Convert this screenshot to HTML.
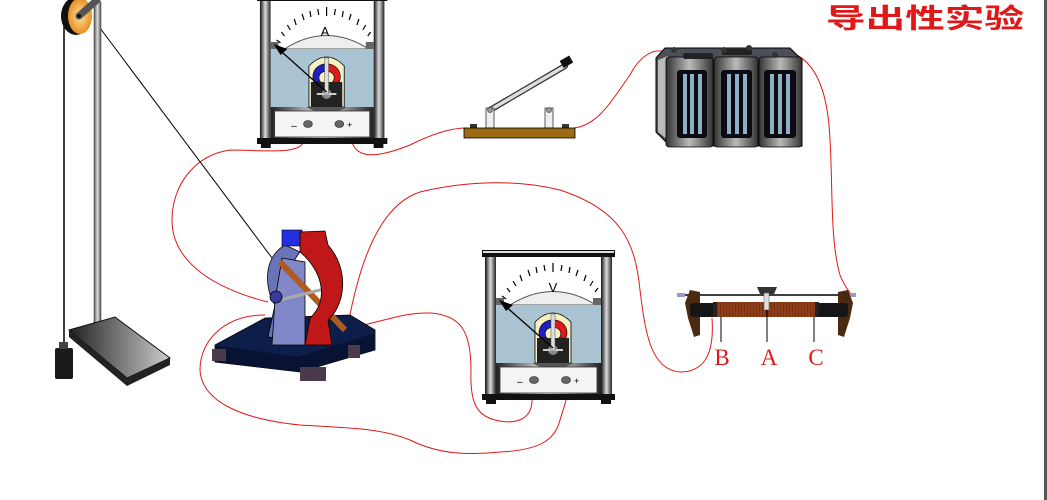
<!DOCTYPE html>
<html><head><meta charset="utf-8"><style>
html,body{margin:0;padding:0;background:#fff;}
svg{display:block;}
</style></head><body>
<svg width="1047" height="500" viewBox="0 0 1047 500" xmlns="http://www.w3.org/2000/svg">
<defs>
<linearGradient id="pil" x1="0" x2="1"><stop offset="0" stop-color="#111"/><stop offset="0.5" stop-color="#ddd"/><stop offset="1" stop-color="#222"/></linearGradient>
<linearGradient id="pan" x1="0" x2="1"><stop offset="0" stop-color="#222"/><stop offset="0.5" stop-color="#eee"/><stop offset="1" stop-color="#222"/></linearGradient>
<linearGradient id="rod" x1="0" x2="1"><stop offset="0" stop-color="#555"/><stop offset="0.5" stop-color="#ddd"/><stop offset="1" stop-color="#555"/></linearGradient>
<linearGradient id="bs" x1="0" x2="1"><stop offset="0" stop-color="#222"/><stop offset="1" stop-color="#ccc"/></linearGradient>
<radialGradient id="pul"><stop offset="0" stop-color="#ffe0a0"/><stop offset="1" stop-color="#e89020"/></radialGradient>
<linearGradient id="bat" x1="0" x2="1"><stop offset="0" stop-color="#333"/><stop offset="0.5" stop-color="#bbb"/><stop offset="1" stop-color="#333"/></linearGradient>
<g id="meter">
  <rect x="0" y="0" width="133" height="7" fill="#111"/>
  <rect x="1" y="1" width="131" height="2" fill="#ddd"/>
  <rect x="3" y="7" width="11" height="138" fill="url(#pil)"/>
  <rect x="119" y="7" width="11" height="138" fill="url(#pil)"/>
  <rect x="14" y="7" width="105" height="48" fill="#fff"/>
  <g stroke="#000" stroke-width="1.2">
    <line x1="20" y1="46" x2="24" y2="49"/><line x1="25" y1="38" x2="28" y2="42"/>
    <line x1="31" y1="31" x2="34" y2="36"/><line x1="38" y1="25" x2="40" y2="31"/>
    <line x1="46" y1="20" x2="48" y2="26"/><line x1="54" y1="17" x2="55" y2="23"/>
    <line x1="62" y1="15" x2="63" y2="21"/><line x1="71" y1="13" x2="71" y2="22"/>
    <line x1="80" y1="15" x2="79" y2="21"/><line x1="88" y1="17" x2="87" y2="23"/>
    <line x1="96" y1="20" x2="94" y2="26"/><line x1="104" y1="25" x2="102" y2="31"/>
    <line x1="111" y1="31" x2="108" y2="36"/><line x1="116" y1="38" x2="113" y2="42"/>
  </g>
  <path d="M28 55 Q71 28 114 55 Z" fill="#eee" stroke="#555" stroke-width="1"/>
  <rect x="14" y="48" width="8" height="7" fill="#666"/><rect x="111" y="48" width="8" height="7" fill="#666"/>
  <rect x="14" y="55" width="105" height="58" fill="#a9c3d3"/>
  <path d="M53 113 V72 Q71 54 89 72 V113 Z" fill="#f6efc0" stroke="#000" stroke-width="0.8"/>
  <path d="M58 88 A13 13 0 0 1 71 70 V78 A6 6 0 0 0 65 88 Z" fill="#2020c0" stroke="#000" stroke-width="0.6"/>
  <path d="M84 88 A13 13 0 0 0 71 70 V78 A6 6 0 0 1 77 88 Z" fill="#e01818" stroke="#000" stroke-width="0.6"/>
  <rect x="55" y="88" width="32" height="25" fill="#222"/>
  <circle cx="71" cy="100" r="5" fill="#888"/>
  <line x1="61" y1="100" x2="81" y2="100" stroke="#ccc" stroke-width="2"/>
  <rect x="69" y="64" width="4" height="36" fill="#ddd" stroke="#555" stroke-width="0.5"/>
  <line x1="71" y1="98" x2="22" y2="55" stroke="#000" stroke-width="1.3"/>
  <path d="M17 50 L31 55 L24 61 Z" fill="#000"/>
  <path d="M14 113 H119 V145 H14 Z" fill="url(#pan)"/>
  <path d="M50 113 Q71 125 92 113 Z" fill="#555"/>
  <rect x="18" y="117" width="97" height="26" fill="#f4f4f4" stroke="#333" stroke-width="0.8"/>
  <text x="35" y="135" font-family="Liberation Sans, sans-serif" font-size="10" fill="#000">–</text>
  <ellipse cx="52" cy="130" rx="4.5" ry="3.5" fill="#666" stroke="#222" stroke-width="0.6"/>
  <ellipse cx="84" cy="130" rx="4.5" ry="3.5" fill="#666" stroke="#222" stroke-width="0.6"/>
  <text x="92" y="134" font-family="Liberation Sans, sans-serif" font-size="9" fill="#000">+</text>
  <rect x="0" y="144" width="133" height="6" fill="#111"/>
  <rect x="4" y="150" width="10" height="4" fill="#111"/><rect x="119" y="150" width="10" height="4" fill="#111"/>
</g>
</defs>

<!-- wires -->
<g fill="none" stroke="#e01818" stroke-width="1">
<path d="M303 142 C300 155 260 150 230 150 C195 155 172 185 172 220 C172 265 220 290 268 302"/>
<path d="M352 142 C358 162 385 155 410 145 C430 135 450 128 466 128"/>
<path d="M574 128 C600 125 615 95 630 75 C640 55 655 48 664 52"/>
<path d="M782 50 C815 55 828 90 830 140 C833 190 830 240 840 275 C845 288 850 292 852 296"/>
<path d="M712 318 C715 360 700 372 680 372 C650 370 645 330 640 290 C635 240 620 210 560 190 C520 180 470 180 420 192 C380 205 360 260 348 325"/>
<path d="M265 315 C225 315 200 340 200 370 C202 405 250 420 300 425 C350 428 380 428 410 440 C440 455 470 455 500 452 C540 450 555 440 560 420 C563 410 565 405 566 400"/>
<path d="M532 400 C532 420 515 425 495 420 C475 415 470 400 471 370 C471 330 460 315 430 313 C400 312 375 325 346 328"/>
</g>

<!-- stand -->
<line x1="64" y1="14" x2="64" y2="346" stroke="#000" stroke-width="1.5"/>
<line x1="100" y1="28" x2="272" y2="258" stroke="#000" stroke-width="1"/>
<rect x="94" y="2" width="7" height="325" fill="url(#rod)" stroke="#333" stroke-width="0.5"/>
<ellipse cx="76" cy="16" rx="15" ry="19" fill="#111"/>
<ellipse cx="80" cy="16" rx="12" ry="18" fill="url(#pul)"/>
<line x1="79" y1="16" x2="97" y2="0" stroke="#555" stroke-width="7" stroke-linecap="round"/>
<circle cx="79" cy="16" r="2" fill="#111"/>
<path d="M69 330 L115 317 L170 358 L127 378 Z" fill="url(#bs)" stroke="#111" stroke-width="1"/>
<path d="M69 330 L69 337 L127 386 L170 365 L170 358 L127 378 Z" fill="#222"/>
<rect x="55" y="348" width="18" height="31" rx="2" fill="#1a1a1a"/>
<rect x="59" y="342" width="9" height="7" fill="#444"/>

<!-- meters -->
<use href="#meter" transform="translate(257,-6) scale(0.98,1)"/>
<text x="325" y="36" font-family="Liberation Sans, sans-serif" font-size="13" fill="#000" text-anchor="middle">A</text>
<use href="#meter" transform="translate(482,250)"/>
<text x="553" y="292" font-family="Liberation Sans, sans-serif" font-size="13" fill="#000" text-anchor="middle">V</text>

<!-- switch -->
<line x1="490" y1="110" x2="565" y2="66" stroke="#333" stroke-width="6" stroke-linecap="round"/>
<line x1="490" y1="110" x2="565" y2="66" stroke="#ddd" stroke-width="3.5" stroke-linecap="round"/>
<rect x="561" y="58" width="11" height="8" fill="#111" transform="rotate(-30 566 62)"/>
<rect x="486" y="108" width="8" height="20" fill="#eee" stroke="#333" stroke-width="0.8"/>
<circle cx="490" cy="110" r="2.5" fill="#999" stroke="#333" stroke-width="0.6"/>
<rect x="545" y="108" width="8" height="20" fill="#eee" stroke="#333" stroke-width="0.8"/>
<circle cx="549" cy="110" r="2.5" fill="#999" stroke="#333" stroke-width="0.6"/>
<rect x="470" y="124" width="7" height="4" fill="#333"/><rect x="562" y="124" width="7" height="4" fill="#333"/>
<rect x="464" y="128" width="111" height="10" fill="#9b6a12" stroke="#000" stroke-width="0.8"/>

<!-- battery -->
<path d="M656 58 L665 48 L790 48 L802 60 L802 146 L670 146 L656 132 Z" fill="#4c4f58" stroke="#000" stroke-width="1"/>
<path d="M658 60 L668 56 L668 140 L658 132 Z" fill="#bbb"/>
<g fill="url(#bat)" stroke="#000" stroke-width="0.8">
<rect x="666" y="57" width="47" height="90" rx="3"/>
<rect x="714" y="57" width="44" height="90" rx="3"/>
<rect x="759" y="57" width="43" height="90" rx="3"/>
</g>
<g fill="#0b0b14">
<rect x="677" y="70" width="30" height="68" rx="3"/><rect x="721" y="70" width="31" height="68" rx="3"/><rect x="764" y="70" width="32" height="68" rx="3"/>
</g>
<g fill="#8fb0c4">
<rect x="683" y="74" width="4" height="60"/><rect x="690" y="74" width="4" height="60"/><rect x="698" y="74" width="4" height="60"/>
<rect x="727" y="74" width="4" height="60"/><rect x="735" y="74" width="4" height="60"/><rect x="743" y="74" width="4" height="60"/>
<rect x="770" y="74" width="4" height="60"/><rect x="778" y="74" width="4" height="60"/><rect x="786" y="74" width="4" height="60"/>
</g>
<rect x="683" y="53" width="30" height="6" rx="2" fill="#222"/><rect x="722" y="49" width="30" height="6" rx="2" fill="#222"/>
<circle cx="724" cy="50" r="3" fill="#333"/><circle cx="749" cy="48" r="3" fill="#333"/><circle cx="674" cy="50" r="3" fill="#333"/><circle cx="775" cy="55" r="3" fill="#333"/>

<!-- rheostat -->
<line x1="678" y1="295" x2="855" y2="295" stroke="#000" stroke-width="1.5"/>
<rect x="677" y="293" width="8" height="4" fill="#99c" /><rect x="848" y="293" width="8" height="4" fill="#99c"/>
<path d="M690 290 L700 292 L700 335 L694 337 L688 318 L685 303 Z" fill="#4a2a10"/>
<path d="M848 290 L838 292 L838 335 L844 337 L850 318 L853 303 Z" fill="#4a2a10"/>
<rect x="690" y="303" width="158" height="14" rx="3" fill="#151515"/>
<rect x="713" y="302" width="106" height="15" fill="#7a3010"/>
<g stroke="#c06030" stroke-width="0.6">
<path d="M716 302v15M719 302v15M722 302v15M725 302v15M728 302v15M731 302v15M734 302v15M737 302v15M740 302v15M743 302v15M746 302v15M749 302v15M752 302v15M755 302v15M758 302v15M761 302v15M764 302v15M767 302v15M770 302v15M773 302v15M776 302v15M779 302v15M782 302v15M785 302v15M788 302v15M791 302v15M794 302v15M797 302v15M800 302v15M803 302v15M806 302v15M809 302v15M812 302v15M815 302v15"/>
</g>
<rect x="713" y="302" width="4" height="15" fill="#222"/><rect x="815" y="302" width="4" height="15" fill="#222"/>
<path d="M757 287 L777 287 L774 294 L760 294 Z" fill="#333"/>
<rect x="764" y="293" width="5" height="17" fill="#ddd" stroke="#555" stroke-width="0.5"/>
<line x1="721" y1="317" x2="721" y2="342" stroke="#000" stroke-width="1"/>
<line x1="767" y1="310" x2="767" y2="342" stroke="#000" stroke-width="1"/>
<line x1="814" y1="317" x2="814" y2="342" stroke="#000" stroke-width="1"/>
<g font-family="Liberation Serif, serif" font-size="23" fill="#e01818" text-anchor="middle">
<text x="722" y="365">B</text><text x="769" y="365">A</text><text x="816" y="365">C</text>
</g>

<!-- motor -->
<path d="M215 345 L265 318 L350 315 L375 330 L375 350 L300 372 L215 362 Z" fill="#0e1e4a" stroke="#000" stroke-width="0.8"/>
<path d="M215 345 L298 357 L375 333 L375 350 L300 372 L215 362 Z" fill="#081233"/>
<rect x="212" y="349" width="14" height="12" fill="#4a3a4a"/>
<rect x="300" y="367" width="26" height="14" fill="#4a3a4a"/>
<rect x="348" y="345" width="12" height="13" fill="#4a3a4a"/>
<path d="M285 245 C262 258 265 290 275 305 L268 337 L300 340 L300 300 C295 285 285 270 300 252 Z" fill="#6a74b8" stroke="#000" stroke-width="0.8"/>
<path d="M282 258 L305 262 L305 345 L272 345 L275 300 Z" fill="#8088c8" stroke="#000" stroke-width="0.8"/>
<line x1="280" y1="262" x2="345" y2="330" stroke="#b05a20" stroke-width="6"/>
<line x1="280" y1="300" x2="340" y2="285" stroke="#aaa" stroke-width="3"/>
<circle cx="276" cy="297" r="6" fill="#3a3a9a" stroke="#000" stroke-width="0.8"/>
<rect x="282" y="230" width="20" height="16" fill="#2430e0" stroke="#000" stroke-width="0.6"/>
<path d="M300 232 L325 231 L328 245 C350 270 345 305 328 320 L332 345 L305 345 L310 318 C330 300 322 270 300 252 Z" fill="#c01818" stroke="#000" stroke-width="0.8"/>

<!-- title -->
<text x="826" y="28" textLength="198" lengthAdjust="spacingAndGlyphs" font-family="Liberation Sans, 'Noto Sans CJK SC', sans-serif" font-size="27" font-weight="bold" fill="#e01818">导出性实验</text>
<rect x="1044" y="0" width="3" height="500" fill="#555"/>
</svg>
</body></html>
